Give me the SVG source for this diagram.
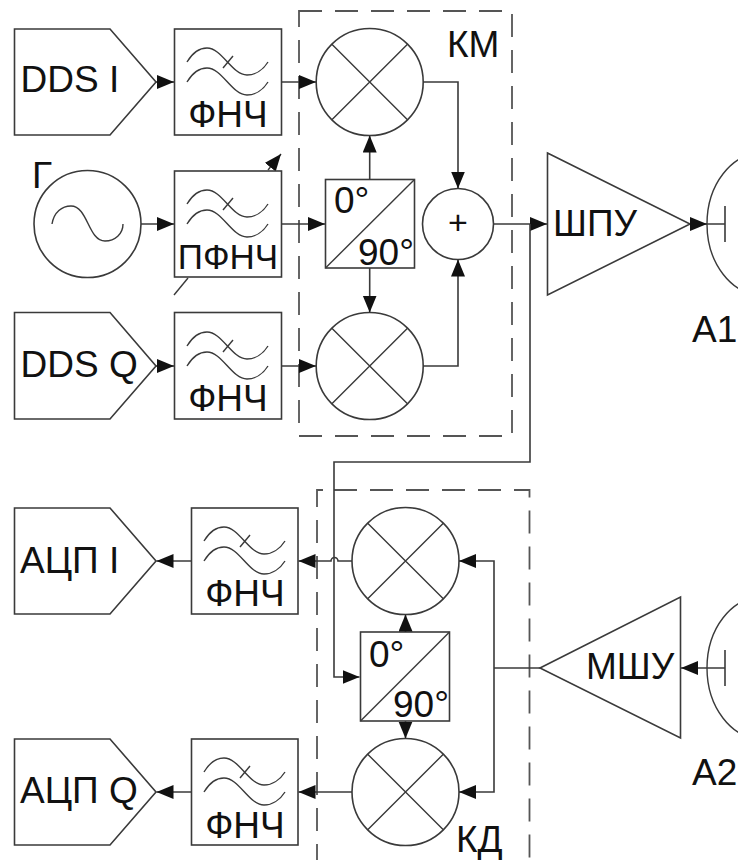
<svg xmlns="http://www.w3.org/2000/svg" xmlns:xlink="http://www.w3.org/1999/xlink" width="738" height="860" viewBox="0 0 738 860">
<style>
.s{fill:#fff;stroke:#3a3a3a;stroke-width:1.6}
.n{fill:none;stroke:#3a3a3a;stroke-width:1.4}
.c{fill:none;stroke:#3a3a3a;stroke-width:1.6}
.d{fill:none;stroke:#555;stroke-width:1.8;stroke-dasharray:23 13}
text{font-family:"Liberation Sans",Arial,sans-serif;font-size:37px;fill:#111}
.m{text-anchor:middle}
.e{text-anchor:end}
</style>
<defs>
<marker id="a" markerUnits="userSpaceOnUse" markerWidth="18" markerHeight="15" refX="17" refY="7" orient="auto"><path d="M0 0L17 7L0 14Z" fill="#111"/></marker>
<g id="w" class="n"><path d="M187 62C193 52 200 48 207 48C222 48 232 75 247 75C255 75 263 70 268 62"/><path d="M187 82C193 72 200 68 207 68C222 68 232 95 247 95C255 95 263 90 268 82"/><path d="M223 68L233 56"/></g>
<g id="x" class="n"><circle r="53.500" class="s"/><path d="M-37.800-37.800L37.800 37.800M-37.800 37.800L37.800-37.800"/></g>
</defs>
<rect width="738" height="860" fill="#fff"/>
<g id="frames">
<path class="d" d="M299 11H512V436H299Z"/>
<path class="d" d="M323 490H317V860M334 490H529.500V860"/>
</g>
<g id="dds-i"><path class="s" d="M14.500 29H110L156 82L110 135H14.500Z"/><text x="20.500" y="92">DDS I</text></g>
<g id="dds-q"><path class="s" d="M14.500 312.500H110L156 366L110 419H14.500Z"/><text x="20.500" y="377">DDS Q</text></g>
<g id="f1"><rect class="s" x="174.500" y="29" width="107" height="106"/><use xlink:href="#w" href="#w"/><text class="m" x="228" y="127">ФНЧ</text></g>
<g id="tune"><path class="n" d="M174 295L188 278"/><path class="n" marker-end="url(#a)" d="M268 170L281 154"/></g>
<g id="f2"><rect class="s" x="174.500" y="171" width="107" height="106"/><use xlink:href="#w" href="#w" y="142"/><text class="m" x="228" y="269" style="font-size:35px">ПФНЧ</text></g>
<g id="f3"><rect class="s" x="174.500" y="312.500" width="107" height="106.500"/><use xlink:href="#w" href="#w" y="284"/><text class="m" x="228" y="411">ФНЧ</text></g>
<g id="osc"><circle class="s" cx="87.500" cy="224" r="53.500"/><path class="n" d="M52 224C54 212 62 206 71 206C88 206 88 241 105 241C115 241 123 234 123 224"/><text x="32" y="188">Г</text></g>
<g id="mix1"><use xlink:href="#x" href="#x" x="369.700" y="82"/></g>
<g id="mix2"><use xlink:href="#x" href="#x" x="369.700" y="366"/></g>
<g id="split1"><rect class="s" x="325.500" y="179.500" width="89" height="88.500"/><path class="n" d="M325.500 268L414.500 179.500"/><text x="334" y="213">0°</text><text class="e" x="414" y="265">90°</text></g>
<g id="sum"><circle class="s" cx="458" cy="224" r="35.500"/><text class="m" x="458" y="234" style="font-size:34px">+</text></g>
<g id="pa"><path class="s" d="M547.500 153L690 224L547.500 295Z"/><text x="553" y="236">ШПУ</text></g>
<g id="a1"><ellipse class="n" cx="762" cy="224" rx="55" ry="71"/><text x="692" y="342">А1</text></g>
<g id="adc-i"><path class="s" d="M14.500 508H110L156 561L110 614H14.500Z"/><text x="20" y="573">АЦП I</text></g>
<g id="adc-q"><path class="s" d="M14.500 739H110L156 792L110 845H14.500Z"/><text x="20" y="803">АЦП Q</text></g>
<g id="f4"><rect class="s" x="191.500" y="508" width="106.500" height="106"/><use xlink:href="#w" href="#w" x="17" y="479"/><text class="m" x="245" y="606">ФНЧ</text></g>
<g id="f5"><rect class="s" x="191.500" y="739" width="106.500" height="106"/><use xlink:href="#w" href="#w" x="17" y="710"/><text class="m" x="245" y="838">ФНЧ</text></g>
<g id="mix3"><use xlink:href="#x" href="#x" x="405.500" y="561"/></g>
<g id="mix4"><use xlink:href="#x" href="#x" x="405.500" y="792"/></g>
<g id="split2"><rect class="s" x="360.500" y="632" width="89" height="89"/><path class="n" d="M360.500 721L449.500 632"/><text x="369" y="667">0°</text><text class="e" x="449" y="717">90°</text></g>
<g id="lna"><path class="s" d="M540 668L680.500 597V738Z"/><text x="586" y="679">МШУ</text></g>
<g id="a2"><ellipse class="n" cx="762" cy="668" rx="55" ry="71"/><text x="692" y="785">А2</text></g>
<text x="456" y="852">КД</text>
<text x="447" y="57">КМ</text>
<g id="connectors" class="c">
<path marker-end="url(#a)" d="M156 82H174"/>
<path marker-end="url(#a)" d="M281.500 82H316"/>
<path marker-end="url(#a)" d="M141 224H174"/>
<path marker-end="url(#a)" d="M281.500 224H325"/>
<path marker-end="url(#a)" d="M156 366H174"/>
<path marker-end="url(#a)" d="M281.500 366H316"/>
<path marker-end="url(#a)" d="M369.700 179.500V135.500"/>
<path marker-end="url(#a)" d="M369.700 268V312.500"/>
<path marker-end="url(#a)" d="M423 82H458V188.500"/>
<path marker-end="url(#a)" d="M423 366H458V259.500"/>
<path marker-end="url(#a)" d="M493.500 224H547"/>
<path marker-end="url(#a)" d="M690 224H707"/>
<path d="M707 224H725M725 206V242"/>
<path marker-end="url(#a)" d="M530 224V462H334V677H359.500"/>
<path marker-end="url(#a)" d="M352 561H338A3.500 3.500 0 0 0 331 561H298.500"/>
<path marker-end="url(#a)" d="M191.500 561H156.500"/>
<path marker-end="url(#a)" d="M352 792H298.500"/>
<path marker-end="url(#a)" d="M191.500 792H156.500"/>
<path marker-end="url(#a)" d="M405.500 632V614.500"/>
<path marker-end="url(#a)" d="M405.500 721V738.500"/>
<path d="M540 668H494"/>
<path marker-end="url(#a)" d="M494 668V561H459"/>
<path marker-end="url(#a)" d="M494 668V792H459"/>
<path marker-end="url(#a)" d="M725 668H681"/>
<path d="M725 650V686"/>
</g>
</svg>
